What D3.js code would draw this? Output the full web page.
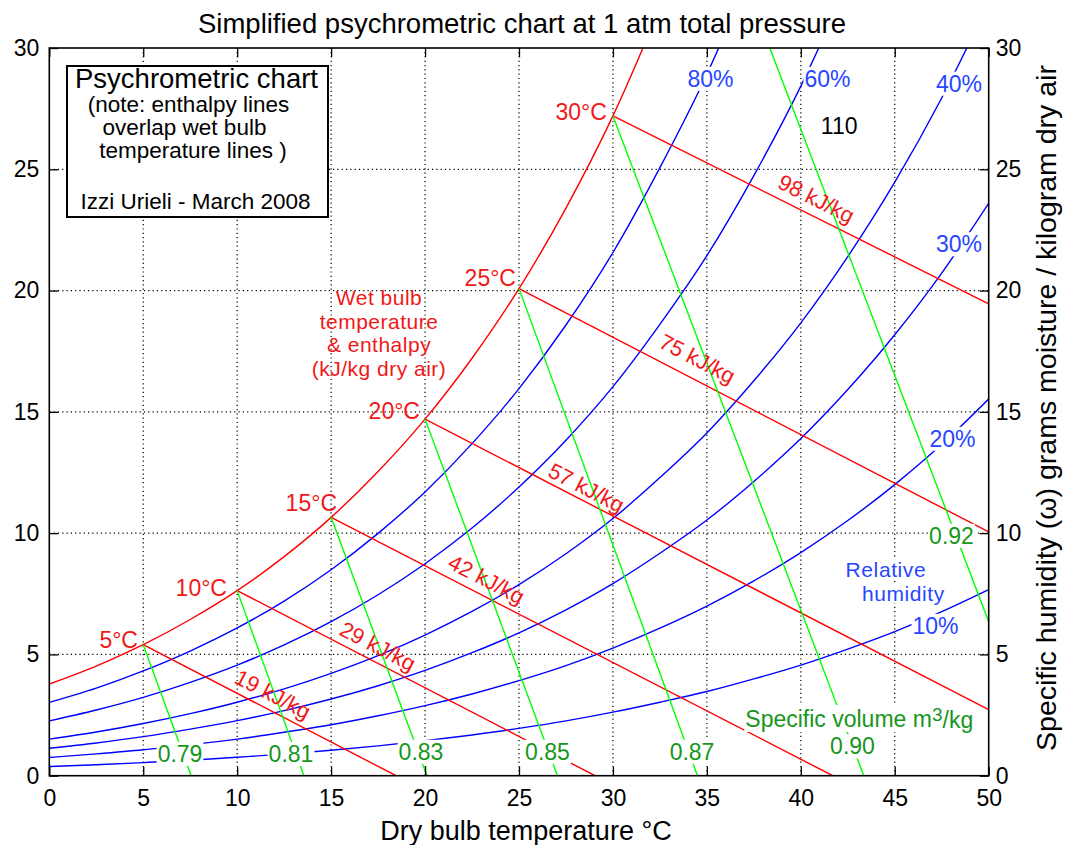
<!DOCTYPE html>
<html><head><meta charset="utf-8">
<script src="https://cdn.jsdelivr.net/npm/d3@7"></script>
<style>
body{margin:0;background:#fff;}
svg text{font-family:"Liberation Sans",Arial,sans-serif;}
</style>
</head><body>
<svg id="chart" width="1067" height="845"></svg>
<script>
// ---------------- data ----------------
const xTicks = [0,5,10,15,20,25,30,35,40,45,50];
const yTicks = [0,5,10,15,20,25,30];
const temps = [0,2.5,5,7.5,10,12.5,15,17.5,20,22.5,25,27.5,30,32.5,35,37.5,40,42.5,45,47.5,50];
// specific humidity (g/kg dry air) along each relative humidity curve
const humSat = [3.78,4.52,5.40,6.44,7.63,9.03,10.65,12.54,14.70,17.21,20.08,23.40,27.20,31.65];
const hum80  = [3.02,3.61,4.32,5.14,6.09,7.20,8.49,9.99,11.70,13.69,15.96,18.58,21.57,25.07,28.92,33.43];
const hum60  = [2.26,2.71,3.23,3.85,4.56,5.39,6.35,7.46,8.74,10.21,11.90,13.83,16.04,18.61,21.44,24.74,28.43,32.67];
const hum40  = [1.51,1.80,2.15,2.56,3.03,3.58,4.22,4.95,5.80,6.77,7.88,9.15,10.60,12.29,14.13,16.28,18.67,21.40,24.47,27.94,31.86];
const hum30  = [1.13,1.35,1.61,1.92,2.27,2.68,3.16,3.71,4.34,5.07,5.89,6.84,7.92,9.17,10.54,12.13,13.90,15.92,18.18,20.72,23.60];
const hum20  = [0.75,0.90,1.07,1.28,1.51,1.79,2.10,2.47,2.89,3.37,3.92,4.54,5.26,6.08,6.99,8.03,9.20,10.52,12.00,13.66,15.53];
const hum10  = [0.38,0.45,0.54,0.64,0.76,0.89,1.05,1.23,1.44,1.68,1.95,2.26,2.62,3.03,3.47,3.99,4.56,5.22,5.94,6.76,7.67];
const rhLabels = ["80%","60%","40%","30%","20%","10%"];

// wet bulb / enthalpy lines: start on saturation curve, end on chart edge
const wetBulbTemps   = [5,10,15,20,25,30];
const wetBulbLabels  = ["5°C","10°C","15°C","20°C","25°C","30°C"];
const wetBulbStartW  = [5.40,7.63,10.65,14.70,20.08,27.20];
const enthalpyEndT   = [18.46,29.05,41.7,50,50,50];
const enthalpyEndW   = [0,0,0,2.72,10.05,19.45];
const enthalpyLabels = ["19 kJ/kg","29 kJ/kg","42 kJ/kg","57 kJ/kg","75 kJ/kg","98 kJ/kg"];

// specific volume lines
const volumeLabels = ["0.79","0.81","0.83","0.85","0.87","0.90","0.92"];
const volumeStartT = [5,10,15,20,25,30,38.35];
const volumeStartW = [5.40,7.63,10.65,14.70,20.08,27.20,30];
const volumeEndT   = [7.55,13.55,20.1,27.05,34.5,43.35,50];
const volumeEndW   = [0,0,0,0,0,0,6.35];

// ---------------- setup ----------------
const RED="#ff0000", BLUE="#0000ff", LIME="#00ff00";
const RED_T="#f01818", BLUE_T="#2846ff", GREEN_T="#17961c";
const FONT='"Liberation Sans", Arial, sans-serif';

const svg = d3.select("#chart");
const x = d3.scaleLinear().domain([0,50]).range([49.3,988.7]);
const y = d3.scaleLinear().domain([0,30]).range([775.7,48]);

svg.append("defs").append("clipPath").attr("id","plot")
  .append("rect").attr("x",x(0)).attr("y",y(30))
  .attr("width",x(50)-x(0)).attr("height",y(0)-y(30));

// grid
const grid = svg.append("g").attr("stroke","#000").attr("stroke-width",1.2)
  .attr("stroke-dasharray","1.2,3.1");
grid.selectAll(".gx").data(xTicks.filter(d=>d>0&&d<50)).join("line")
  .attr("x1",d=>x(d)).attr("x2",d=>x(d)).attr("y1",y(0)).attr("y2",y(30));
grid.selectAll(".gy").data(yTicks.filter(d=>d>0&&d<30)).join("line")
  .attr("y1",d=>y(d)).attr("y2",d=>y(d)).attr("x1",x(0)).attr("x2",x(50));

const plot = svg.append("g").attr("clip-path","url(#plot)");
const line = d3.line().x(d=>x(d[0])).y(d=>y(d[1])).curve(d3.curveMonotoneX);

const rhSeries = [
  {v:humSat,c:RED},{v:hum80,c:BLUE},{v:hum60,c:BLUE},{v:hum40,c:BLUE},
  {v:hum30,c:BLUE},{v:hum20,c:BLUE},{v:hum10,c:BLUE}
];
rhSeries.forEach(s=>{
  plot.append("path").datum(s.v.map((w,i)=>[temps[i],w]))
    .attr("d",line).attr("fill","none").attr("stroke",s.c).attr("stroke-width",1.4);
});

// enthalpy lines
wetBulbTemps.forEach((t,i)=>{
  plot.append("line").attr("x1",x(t)).attr("y1",y(wetBulbStartW[i]))
    .attr("x2",x(enthalpyEndT[i])).attr("y2",y(enthalpyEndW[i]))
    .attr("stroke",RED).attr("stroke-width",1.4);
});
// specific volume lines
volumeLabels.forEach((l,i)=>{
  plot.append("line").attr("x1",x(volumeStartT[i])).attr("y1",y(volumeStartW[i]))
    .attr("x2",x(volumeEndT[i])).attr("y2",y(volumeEndW[i]))
    .attr("stroke",LIME).attr("stroke-width",1.4);
});

// ---------------- labels ----------------
const lab = svg.append("g");
function addBg(node, b){
  lab.insert("rect",()=>node).attr("x",b.x-1).attr("y",b.y+1).attr("width",b.width+2)
    .attr("height",b.height-2).attr("fill","#fff");
}
function label(str, T, W, opt={}){
  const t = lab.append("text").attr("x",x(T)).attr("y",y(W)).attr("dy","0.36em")
    .attr("text-anchor",opt.anchor||"middle").attr("font-size",opt.size||23)
    .attr("font-family",FONT).attr("fill",opt.color||"#000").text(str);
  if(opt.ls) t.attr("letter-spacing",opt.ls);
  if(opt.rotate!==undefined) t.attr("transform",`rotate(${opt.rotate},${x(T)},${y(W)})`);
  if(opt.bg) addBg(t.node(), t.node().getBBox());
  return t;
}

// green specific volume labels
const volPos = [[6.957,0.915],[12.865,0.915],[19.784,0.998],[26.517,0.998],[34.21,0.998],[42.75,1.224],[48.02,9.90]];
volumeLabels.forEach((l,i)=>label(l, volPos[i][0], volPos[i][1], {color:GREEN_T,bg:true}));
{
  const t = label("Specific volume m", 43.11, 2.358, {color:GREEN_T,bg:false});
  t.append("tspan").attr("dy","-0.3em").attr("font-size",19).text("3");
  t.append("tspan").attr("dy","0.3em").text("/kg");
  addBg(t.node(), t.node().getBBox());
}

// blue RH labels
const rhPos = [[35.19,28.74],[41.42,28.74],[48.42,28.54],[48.42,21.92],[48.07,13.90],[47.17,6.19]];
rhLabels.forEach((l,i)=>label(l, rhPos[i][0], rhPos[i][1], {color:BLUE_T,bg:true}));
label("Relative",44.53,8.52,{color:BLUE_T,bg:true,size:21,ls:0.6});
label("humidity",45.46,7.53,{color:BLUE_T,bg:true,size:21,ls:0.6});

// red wet bulb labels
const wbPos = [[4.721,5.615],[9.458,7.738],[15.313,11.242],[19.73,15.056],[24.84,20.55],[29.68,27.38]];
wetBulbLabels.forEach((l,i)=>label(l, wbPos[i][0], wbPos[i][1], {color:RED_T,anchor:"end"}));

// red enthalpy labels, rotated along their lines
const enPos = [[11.906,3.368],[17.494,5.347],[23.27,8.109],[28.59,11.881],[34.50,17.199],[40.83,23.795]];
enthalpyLabels.forEach((l,i)=>{
  const ang = Math.atan2(y(enthalpyEndW[i])-y(wetBulbStartW[i]), x(enthalpyEndT[i])-x(wetBulbTemps[i]))*180/Math.PI;
  label(l, enPos[i][0], enPos[i][1], {color:RED_T,size:22,rotate:ang});
});
label("110",42.04,26.79,{color:"#000",size:23});

// red explanatory block
[["Wet bulb",19.70],["temperature",18.73],["& enthalpy",17.76],["(kJ/kg dry air)",16.79]]
  .forEach(([s,w])=>label(s,17.55,w,{color:RED_T,size:21,ls:0.5}));

// legend box
svg.append("rect").attr("x",67).attr("y",66).attr("width",261).attr("height",151)
  .attr("fill","#fff").attr("stroke","#000").attr("stroke-width",2);
const box = svg.append("text").attr("font-family",FONT).attr("text-anchor","middle").attr("fill","#000");
[["Psychrometric chart",196.5,88,27.5],["(note: enthalpy lines",188.5,112,22.5],["overlap wet bulb",184.5,135,22.5],
 ["temperature lines )",193,158,22.5],["Izzi Urieli - March 2008",195.5,209,22.5]].forEach(([s,px,py,fs])=>{
  box.append("tspan").attr("x",px).attr("y",py).attr("font-size",fs).text(s);
});

// ---------------- axes ----------------
function styleAxis(g){
  g.attr("font-family",FONT).attr("font-size",23);
  g.select(".domain").remove();
  g.selectAll(".tick line").attr("stroke","#000").attr("stroke-width",1.3);
  g.selectAll("text").attr("fill","#000");
}
svg.append("g").attr("transform",`translate(0,${y(0)})`)
  .call(d3.axisBottom(x).tickValues(xTicks).tickSize(-9).tickSizeOuter(0).tickPadding(14).tickFormat(d3.format("d")))
  .call(styleAxis);
svg.append("g").attr("transform",`translate(0,${y(30)})`)
  .call(d3.axisTop(x).tickValues(xTicks).tickSize(-9).tickSizeOuter(0).tickFormat(()=>""))
  .call(styleAxis);
svg.append("g").attr("transform",`translate(${x(0)},0)`)
  .call(d3.axisLeft(y).tickValues(yTicks).tickSize(-9).tickSizeOuter(0).tickPadding(10).tickFormat(d3.format("d")))
  .call(styleAxis);
svg.append("g").attr("transform",`translate(${x(50)},0)`)
  .call(d3.axisRight(y).tickValues(yTicks).tickSize(-9).tickSizeOuter(0).tickPadding(7).tickFormat(d3.format("d")))
  .call(styleAxis);
svg.append("rect").attr("x",x(0)).attr("y",y(30)).attr("width",x(50)-x(0)).attr("height",y(0)-y(30))
  .attr("fill","none").attr("stroke","#000").attr("stroke-width",1.6);

// titles
svg.append("text").attr("x",522).attr("y",33).attr("text-anchor","middle")
  .attr("font-size",27.5).attr("font-family",FONT).text("Simplified psychrometric chart at 1 atm total pressure");
svg.append("text").attr("x",526).attr("y",840).attr("text-anchor","middle")
  .attr("font-size",27).attr("font-family",FONT).text("Dry bulb temperature °C");
svg.append("text").attr("transform","translate(1056,408) rotate(-90)").attr("text-anchor","middle")
  .attr("font-size",28.5).attr("font-family",FONT).text("Specific humidity (ω) grams moisture / kilogram dry air");
</script>
</body></html>
